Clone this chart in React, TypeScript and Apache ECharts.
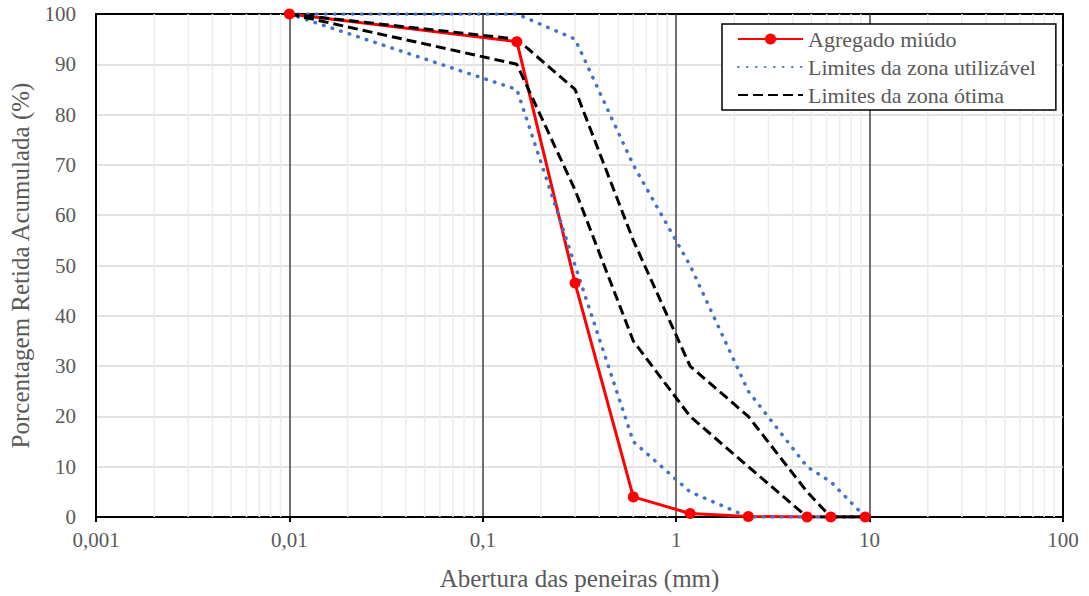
import React, { useEffect, useRef } from "react";
import * as echarts from "echarts";

// Sieve openings (mm) and cumulative retained percentages
const sieves = [0.01, 0.15, 0.3, 0.6, 1.18, 2.36, 4.75, 6.3, 9.5];
const agregadoMiudo = [100, 94.5, 46.5, 4, 0.7, 0.1, 0, 0, 0];
const utilizavelSuperior = [100, 100, 95, 70, 50, 25, 10, 7, 0];
const utilizavelInferior = [100, 85, 50, 15, 5, 0, 0, 0, 0];
const otimaSuperior = [100, 95, 85, 55, 30, 20, 5, 0, 0];
const otimaInferior = [100, 90, 65, 35, 20, 10, 0, 0, 0];

// Log axis decades and the minor grid multipliers inside each decade
const decades = [0.001, 0.01, 0.1, 1, 10];
const minorMultipliers = [2, 3, 4, 5, 6, 7, 8, 9];

const FONT = "'Liberation Serif', 'Times New Roman', serif";
const TEXT_COLOR = "#595959";

const pairs = (ys: number[]) => sieves.map((x, i) => [x, ys[i]]);

export default function App() {
  const ref = useRef<HTMLDivElement>(null);

  useEffect(() => {
    if (!ref.current) return;
    const chart = echarts.init(ref.current, null, { renderer: "svg" });

    const minorValues: number[] = [];
    decades.forEach((d) => minorMultipliers.forEach((m) => minorValues.push(d * m)));

    const dotted = { color: "#4472c4", width: 3.5, type: [0.5, 8.5], cap: "round" as const };
    const dashed = { color: "#000000", width: 3, type: [10, 5] };
    const noSymbol = { color: "transparent", borderWidth: 0 };

    chart.setOption({
      animation: false,
      backgroundColor: "#ffffff",
      textStyle: { fontFamily: FONT },
      grid: {
        left: 96,
        top: 14,
        right: 26,
        bottom: 77,
        show: true,
        borderColor: "#000000",
        borderWidth: 2,
        backgroundColor: "transparent",
      },
      legend: {
        left: 722,
        top: 24,
        orient: "vertical",
        itemWidth: 65,
        itemHeight: 14,
        itemGap: 6,
        padding: [4, 20, 4, 15],
        backgroundColor: "#ffffff",
        borderColor: "#000000",
        borderWidth: 1.5,
        borderRadius: 0,
        data: [
          { name: "Agregado miúdo" },
          { name: "Limites da zona utilizável", itemStyle: noSymbol },
          { name: "Limites da zona ótima", itemStyle: noSymbol },
        ],
        textStyle: { fontFamily: FONT, fontSize: 22, color: TEXT_COLOR },
      },
      xAxis: {
        type: "log",
        logBase: 10,
        min: 0.001,
        max: 100,
        name: "Abertura das peneiras (mm)",
        nameLocation: "middle",
        nameGap: 49,
        nameTextStyle: { fontFamily: FONT, fontSize: 25, color: TEXT_COLOR },
        axisLine: { show: true, lineStyle: { color: "#000000", width: 2 } },
        axisTick: { show: true, length: 5, lineStyle: { color: "#000000", width: 2 } },
        axisLabel: {
          margin: 12,
          fontFamily: FONT,
          fontSize: 21,
          color: TEXT_COLOR,
          formatter: (v: number) => String(parseFloat(Number(v).toPrecision(6))).replace(".", ","),
        },
        splitLine: {
          show: true,
          showMinLine: false,
          showMaxLine: false,
          lineStyle: { color: "#404040", width: 1.5 },
        },
      },
      yAxis: {
        type: "value",
        min: 0,
        max: 100,
        interval: 10,
        name: "Porcentagem Retida Acumulada (%)",
        nameLocation: "middle",
        nameGap: 63,
        nameTextStyle: { fontFamily: FONT, fontSize: 25, color: TEXT_COLOR },
        axisLine: { show: true, lineStyle: { color: "#000000", width: 2 } },
        axisTick: { show: false },
        axisLabel: { margin: 20, fontFamily: FONT, fontSize: 21, color: TEXT_COLOR },
        splitLine: {
          show: true,
          showMinLine: false,
          showMaxLine: false,
          lineStyle: { color: "#d9d9d9", width: 1.5 },
        },
      },
      series: [
        {
          // minor vertical grid lines at 2..9 of every decade
          type: "custom",
          z: 1,
          silent: true,
          legendHoverLink: false,
          data: minorValues.map((v) => [v, 0]),
          renderItem: (_params: any, api: any) => {
            const v = api.value(0);
            const p0 = api.coord([v, 0]);
            const p1 = api.coord([v, 100]);
            return {
              type: "line",
              shape: { x1: p0[0], y1: p0[1], x2: p1[0], y2: p1[1] },
              style: { stroke: "#ececec", lineWidth: 1.5 },
            };
          },
        },
        {
          name: "Agregado miúdo",
          type: "line",
          z: 3,
          data: pairs(agregadoMiudo),
          symbol: "circle",
          symbolSize: 11,
          itemStyle: { color: "#ff0000" },
          lineStyle: { color: "#ff0000", width: 3 },
        },
        {
          name: "Limites da zona utilizável",
          type: "line",
          z: 3,
          data: pairs(utilizavelSuperior),
          symbol: "none",
          itemStyle: { color: "#4472c4" },
          lineStyle: dotted,
        },
        {
          name: "Limites da zona utilizável",
          type: "line",
          z: 3,
          data: pairs(utilizavelInferior),
          symbol: "none",
          itemStyle: { color: "#4472c4" },
          lineStyle: dotted,
        },
        {
          name: "Limites da zona ótima",
          type: "line",
          z: 3,
          data: pairs(otimaSuperior),
          symbol: "none",
          itemStyle: { color: "#000000" },
          lineStyle: dashed,
        },
        {
          name: "Limites da zona ótima",
          type: "line",
          z: 3,
          data: pairs(otimaInferior),
          symbol: "none",
          itemStyle: { color: "#000000" },
          lineStyle: dashed,
        },
      ],
    });

    return () => chart.dispose();
  }, []);

  return (
    <div
      ref={ref}
      style={{ position: "absolute", left: 0, top: 0, width: 1089, height: 596, background: "#fff" }}
    />
  );
}
